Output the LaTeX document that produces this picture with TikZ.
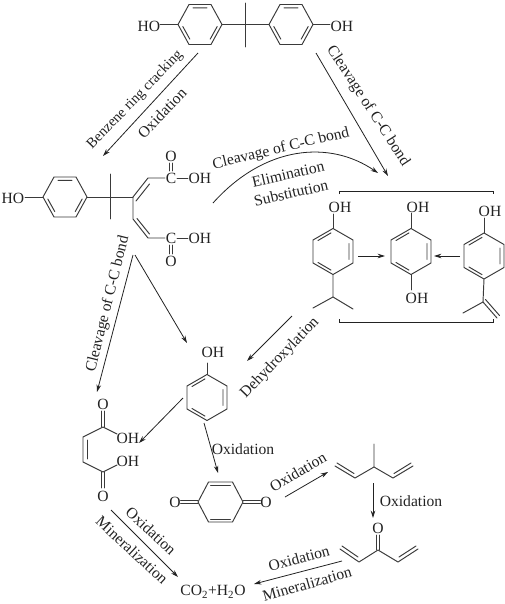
\documentclass[tikz,border=0pt]{standalone}
\usepackage{fontspec}
\setmainfont{Liberation Serif}
\usetikzlibrary{arrows.meta}
\definecolor{ink}{HTML}{222222}
\definecolor{bondc}{HTML}{3A3A3A}
\tikzset{
  lbl/.style={font=\fontsize{11.7}{14}\selectfont,text=ink,inner sep=0pt,outer sep=0pt},
  lblsm/.style={lbl,font=\fontsize{10.9}{14}\selectfont},
  bond/.style={draw=bondc,line width=0.72pt,line cap=round,line join=round},
  arr/.style={draw=ink,line width=0.6pt,-{Stealth[length=5.5pt,width=3.4pt]}},
  bra/.style={draw=ink,line width=0.7pt}
}
\newcommand{\flatring}[2]{%
  \begin{scope}[shift={(#1,#2)}]
    \draw[bond] (-22,0)--(-11,-20)--(11,-20)--(22,0)--(11,20)--(-11,20)--cycle;
    \draw[bond] (-7,-16.6)--(7,-16.6) (-17.2,2)--(-10.2,14.6) (17.2,2)--(10.2,14.6);
  \end{scope}}
\newcommand{\pointring}[2]{%
  \begin{scope}[shift={(#1,#2)}]
    \draw[bond] (0,-23)--(20,-11.5)--(20,11.5)--(0,23)--(-20,11.5)--(-20,-11.5)--cycle;
    \draw[bond] (-2,-18.6)--(-15,-11) (16,-8)--(16,8) (-2,18.6)--(-15,11);
  \end{scope}}
\begin{document}
\begin{tikzpicture}[x=0.75pt,y=-0.75pt]
\useasboundingbox (0,0) rectangle (505,604);
% top bisphenol
\flatring{200}{24.5}\flatring{291}{24.5}
\node[lbl] (ho1) at (149,26) {HO};
\node[lbl] (oh1) at (342,26) {OH};
\draw[bond] (160,24.5)--(178,24.5);
\draw[bond] (222,24.5)--(269,24.5) (245.5,3)--(245.5,47);
\draw[bond] (313,24.5)--(330,24.5);
% second molecule
\flatring{65}{197}
\node[lbl] (ho2) at (13,198) {HO};
\draw[bond] (25,197)--(43,197) (87,197)--(133,197) (110,174)--(110,219);
\draw[bond] (133,197)--(148,178)--(165,178) (136,201)--(149.5,184);
\draw[bond] (133,197)--(133,219)--(148,238)--(165,238) (137,218.5)--(149.5,234);
\node[lbl] (c1) at (171,178) {C};
\node[lbl] (c2) at (171,238.5) {C};
\node[lbl] (o1) at (171,156) {O};
\node[lbl] (o2) at (171,261) {O};
\node[lbl] (oh2) at (200,178.5) {OH};
\node[lbl] (oh3) at (200,238.5) {OH};
\draw[bond] (177,178)--(188,178) (177,238)--(188,238);
\draw[bond] (169.5,163)--(169.5,171) (172.5,163)--(172.5,171);
\draw[bond] (169.5,245)--(169.5,254) (172.5,245)--(172.5,254);
% hydroxy rings
\pointring{333}{251.5}\pointring{411}{251.5}\pointring{484}{256}
\node[lbl] (oh4) at (340,207) {OH};
\node[lbl] (oh5) at (418,207) {OH};
\node[lbl] (oh6) at (490,211) {OH};
\node[lbl] (oh7) at (417,298) {OH};
\draw[bond] (333,214)--(333,228.5) (411,213)--(411,228.5) (484,218)--(484,233);
\draw[bond] (411,274.5)--(411,290);
\draw[bond] (333,275)--(333,297) (313,308)--(333,297)--(353,309);
\draw[bond] (484,279)--(483,302)--(463,313);
\draw[bond] (483,302)--(497,318) (485.5,299.5)--(499.5,315.5);
% bracket
\draw[bra] (339,194)--(339,191)--(493,191)--(493,194);
\draw[bra] (339,319)--(339,322)--(493,322)--(493,319);
% phenol
\pointring{207}{397.5}
\node[lbl] (oh8) at (213,352) {OH};
\draw[bond] (207,363)--(207,374.5);
% maleic acid
\node[lbl] (o3) at (103,404) {O};
\node[lbl] (o4) at (103,496) {O};
\node[lbl] (oh9) at (128,438) {OH};
\node[lbl] (oh10) at (128,461) {OH};
\draw[bond] (101.5,411)--(101.5,427) (104.5,411)--(104.5,427);
\draw[bond] (101.5,472)--(101.5,488) (104.5,472)--(104.5,488);
\draw[bond] (117,434)--(103,427)--(83,437)--(83,462)--(103,472)--(117,465);
\draw[bond] (87,440)--(87,459);
% quinone
\begin{scope}[shift={(220.5,502)}]
\draw[bond] (-22.5,0)--(-12,-20)--(12,-20)--(22.5,0)--(12,20)--(-12,20)--cycle;
\draw[bond] (-10,-17)--(10,-17) (-10,17)--(10,17);
\end{scope}
\node[lbl] (o5) at (175,502) {O};
\node[lbl] (o6) at (266,502) {O};
\draw[bond] (180.5,500.5)--(198,500.5) (180.5,503.5)--(198,503.5);
\draw[bond] (243,500.5)--(260.5,500.5) (243,503.5)--(260.5,503.5);
% methyl diene
\draw[bond] (335,466)--(355,478)--(374,467)--(393,478)--(413,466) (374,467)--(374,444);
\draw[bond] (337,463)--(354,473.5) (394,473.5)--(411,463);
% divinyl ketone
\node[lbl] (o7) at (378,528) {O};
\draw[bond] (376.5,535)--(376.5,550) (379.5,535)--(379.5,550);
\draw[bond] (340,549)--(359,562)--(378,550)--(398,562)--(418,549);
\draw[bond] (342,546)--(358,557) (399,557)--(416,546);
% products
\node[lbl] (prod) at (213,592) {CO\textsubscript{2}+H\textsubscript{2}O};
% arrow ends
\coordinate (a1) at (198,53); \coordinate (b1) at (103,156);
\coordinate (a2) at (316,53); \coordinate (b2) at (388,176);
\coordinate (a3) at (213,203); \coordinate (b3) at (378,173);
\coordinate (a4) at (133,255); \coordinate (b4) at (97,392);
\coordinate (a5) at (135,255); \coordinate (b5) at (187,343);
\coordinate (a6) at (292,316); \coordinate (b6) at (247,361);
\coordinate (a7) at (358,256); \coordinate (b7) at (385,256);
\coordinate (a8) at (460,256); \coordinate (b8) at (434,256);
\coordinate (a9) at (183,398); \coordinate (b9) at (139,443);
\coordinate (a10) at (204,423); \coordinate (b10) at (218,473);
\coordinate (a11) at (111,510); \coordinate (b11) at (178,577);
\coordinate (a12) at (285,497); \coordinate (b12) at (328,472);
\coordinate (a13) at (373,483); \coordinate (b13) at (373,518);
\coordinate (a14) at (342,561); \coordinate (b14) at (254,584);
\draw[arr] (a1)--(b1);
\draw[arr] (a2)--(b2);
\draw[arr] (a3) .. controls (265,145) and (330,140) .. (b3);
\draw[arr] (a4)--(b4);
\draw[arr] (a5)--(b5);
\draw[arr] (a6)--(b6);
\draw[arr] (a7)--(b7);
\draw[arr] (a8)--(b8);
\draw[arr] (a9)--(b9);
\draw[arr] (a10)--(b10);
\draw[arr] (a11)--(b11);
\draw[arr] (a12)--(b12);
\draw[arr] (a13)--(b13);
\draw[arr] (a14)--(b14);
% labels
\node[lblsm,rotate=46] (t1) at (135,100) {Benzene ring cracking};
\node[lbl,rotate=46] (t2) at (162,113) {Oxidation};
\node[lbl,rotate=-57] (t3) at (368,106) {Cleavage of C-C bond};
\node[lbl,rotate=13.5] (t4) at (281,149) {Cleavage of C-C bond};
\node[lbl,rotate=13] (t5) at (288,174) {Elimination};
\node[lbl,rotate=13] (t6) at (291,193) {Substitution};
\node[lbl,rotate=76] (t7) at (108,304) {Cleavage of C-C bond};
\node[lbl,rotate=46] (t8) at (280,358) {Dehydroxylation};
\node[lbl] (t9) at (243,449) {Oxidation};
\node[lbl,rotate=30] (t10) at (298,472) {Oxidation};
\node[lbl] (t11) at (411,501) {Oxidation};
\node[lbl,rotate=-43] (t12) at (151,531) {Oxidation};
\node[lbl,rotate=-43] (t13) at (132,550) {Mineralization};
\node[lbl,rotate=15] (t14) at (299,558) {Oxidation};
\node[lbl,rotate=16] (t15) at (307,584) {Mineralization};
\end{tikzpicture}
\end{document}
